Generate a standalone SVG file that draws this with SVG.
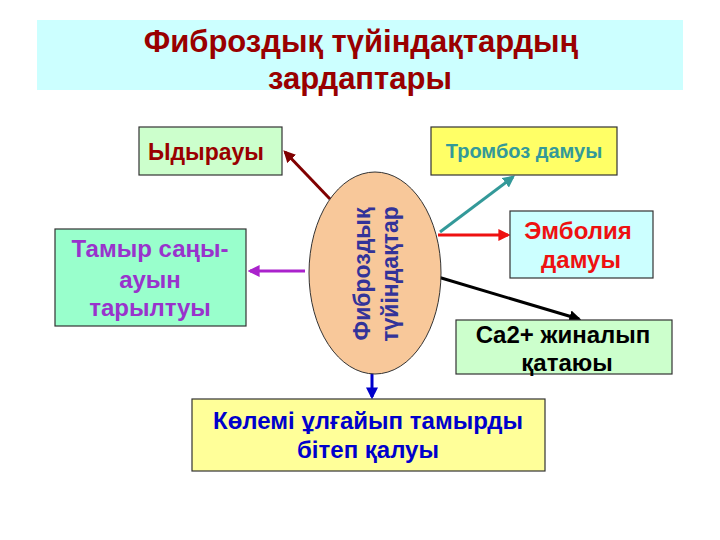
<svg xmlns="http://www.w3.org/2000/svg" width="720" height="540" viewBox="0 0 720 540">
<style>
text{font-family:"Liberation Sans",Arial,sans-serif;font-weight:bold;text-anchor:middle}
.box{stroke:#333;stroke-width:1.2}
.c{stroke-width:3;fill:none}
</style>
<defs>
<marker id="m" viewBox="0 0 10 10" refX="8" refY="5" markerWidth="4" markerHeight="4" orient="auto"><path d="M0,0L10,5L0,10z" fill="context-stroke"/></marker>
</defs>
<rect width="720" height="540" fill="#fff"/>
<g id="title">
<rect x="37" y="20" width="646" height="70" fill="#ccffff"/>
<text x="361" y="52" font-size="31" fill="#990000">Фиброздық түйіндақтардың</text>
<text x="360" y="89" font-size="31" fill="#990000">зардаптары</text>
</g>
<g id="connectors">
<path class="c" d="M330,199L285,152" stroke="#800000" marker-end="url(#m)"/>
<path class="c" d="M440,232L513,177" stroke="#339999" marker-end="url(#m)"/>
<path class="c" d="M438,235L508,235" stroke="#ee1111" marker-end="url(#m)"/>
<path class="c" d="M305,271L250,271" stroke="#aa22cc" marker-end="url(#m)"/>
<path class="c" d="M438,277L579,319" stroke="#000" marker-end="url(#m)"/>
<path class="c" d="M372,373L372,397" stroke="#0000cc" marker-end="url(#m)"/>
</g>
<g id="center">
<ellipse cx="375" cy="273" rx="66" ry="101" fill="#f8c89a" stroke="#333" stroke-width="1"/>
<text transform="translate(370,274) rotate(-90)" font-size="23" fill="#333399">Фиброздық</text>
<text transform="translate(398,274) rotate(-90)" font-size="23" fill="#333399">түйіндақтар</text>
</g>
<g id="n1"><rect class="box" x="139" y="127" width="143" height="48" fill="#ccffcc"/>
<text x="206" y="160" font-size="23" fill="#990000">Ыдырауы</text></g>
<g id="n2"><rect class="box" x="431" y="127" width="186" height="48" fill="#ffff66"/>
<text x="524" y="158" font-size="20" fill="#339999">Тромбоз дамуы</text></g>
<g id="n3"><rect class="box" x="55" y="229" width="191" height="97" fill="#99ffcc"/>
<text x="150" y="257" font-size="24" fill="#9933cc">Тамыр саңы-</text>
<text x="150" y="288" font-size="24" fill="#9933cc">ауын</text>
<text x="150" y="316" font-size="24" fill="#9933cc">тарылтуы</text></g>
<g id="n4"><rect class="box" x="510" y="211" width="143" height="67" fill="#ccffff"/>
<text x="578" y="239" font-size="24" fill="#ee1111">Эмболия</text>
<text x="581" y="268" font-size="24" fill="#ee1111">дамуы</text></g>
<g id="n5"><rect class="box" x="456" y="320" width="216" height="54" fill="#ccffcc"/>
<text x="563" y="343" font-size="24" fill="#000">Ca2+ жиналып</text>
<text x="567" y="371" font-size="24" fill="#000">қатаюы</text></g>
<g id="n6"><rect class="box" x="192" y="399" width="353" height="72" fill="#ffff99"/>
<text x="368" y="429" font-size="24" fill="#0000cc">Көлемі ұлғайып тамырды</text>
<text x="368" y="458" font-size="24" fill="#0000cc">бітеп  қалуы</text></g>
</svg>
